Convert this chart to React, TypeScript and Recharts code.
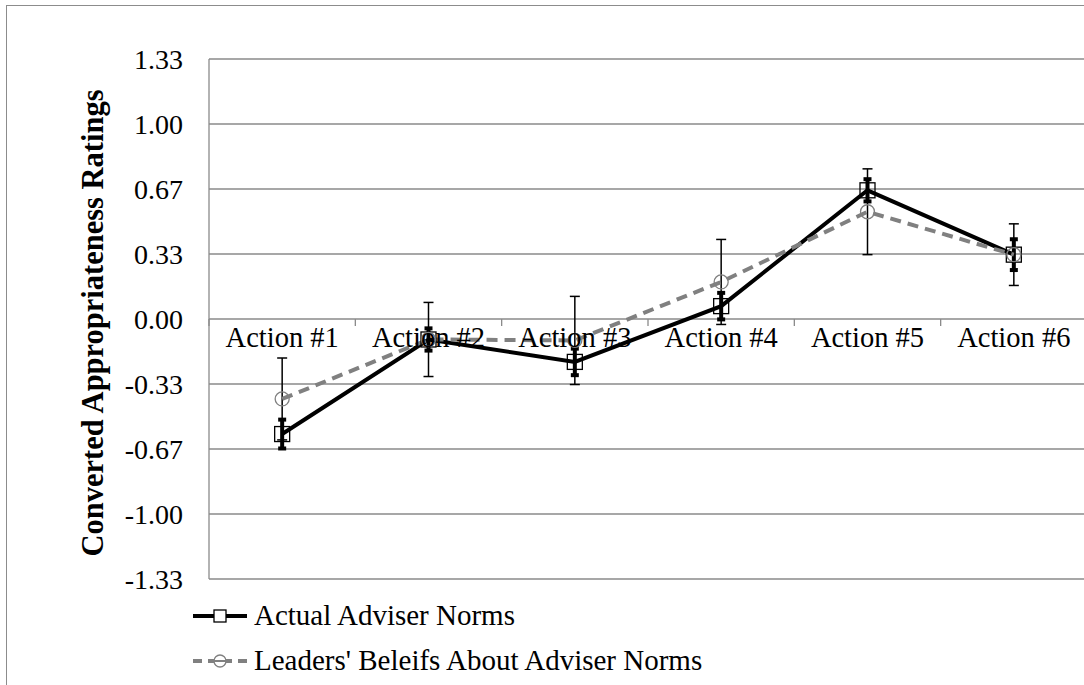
import React from 'react';
import { ComposedChart, Line, XAxis, YAxis, CartesianGrid, ErrorBar, Legend } from 'recharts';

const categories = ['Action #1', 'Action #2', 'Action #3', 'Action #4', 'Action #5', 'Action #6'];
const actualNorms = [-0.59, -0.105, -0.22, 0.066, 0.66, 0.33];
const actualErr = [0.074, 0.057, 0.068, 0.068, 0.057, 0.079];
const leaderBeliefs = [-0.41, -0.105, -0.11, 0.19, 0.55, 0.33];
const leaderErr = [0.21, 0.19, 0.226, 0.218, 0.22, 0.158];
const yTicks = [-4 / 3, -1, -2 / 3, -1 / 3, 0, 1 / 3, 2 / 3, 1, 4 / 3];
const seriesActual = 'Actual Adviser Norms';
const seriesLeaders = "Leaders' Beleifs About Adviser Norms";
const yTitle = 'Converted Appropriateness Ratings';

const data = categories.map((c, i) => ({
  name: c,
  actual: actualNorms[i],
  actualErr: actualErr[i],
  leaders: leaderBeliefs[i],
  leadersErr: leaderErr[i],
}));

const FONT = '"Liberation Serif", "Times New Roman", serif';
const CHART_W = 1090;
const CHART_H = 685;
const M_TOP = 59;
const X_H = 30;
const M_BOTTOM = 106 - X_H;
const M_RIGHT = 3;
const Y_W = 209;
const PLOT_H = CHART_H - M_TOP - M_BOTTOM - X_H;
const PLOT_W = CHART_W - Y_W - M_RIGHT;
const BAND = PLOT_W / categories.length;
const GRID = '#8a8a8a';

const CategoryTick = (props: any) => {
  const { x, y, payload } = props;
  const zeroY = y - PLOT_H / 2;
  return (
    <g>
      <line x1={x - BAND / 2} x2={x - BAND / 2} y1={zeroY} y2={zeroY + 7} stroke={GRID} strokeWidth={1.3} />
      <text x={x} y={zeroY + 28} textAnchor="middle" fontFamily={FONT} fontSize={28.5} fill="#000">
        {payload.value}
      </text>
    </g>
  );
};

const SquareDot = (props: any) => {
  const { cx, cy } = props;
  if (cx == null || cy == null) return null;
  return <rect x={cx - 7.5} y={cy - 7.5} width={15} height={15} fill="none" stroke="#000" strokeWidth={1.3} />;
};

const CircleDot = (props: any) => {
  const { cx, cy } = props;
  if (cx == null || cy == null) return null;
  return <circle cx={cx} cy={cy} r={7} fill="none" stroke="#808080" strokeWidth={1.3} />;
};

const YTitle = (props: any) => {
  const { viewBox } = props;
  const cx = viewBox.x + 93;
  const cy = viewBox.y + viewBox.height / 2 + 4;
  return (
    <text
      x={cx}
      y={cy}
      transform={`rotate(-90 ${cx} ${cy})`}
      textAnchor="middle"
      dominantBaseline="central"
      fontFamily={FONT}
      fontSize={30.5}
      fontWeight="bold"
      fill="#000"
    >
      {yTitle}
    </text>
  );
};

const LegendContent = (props: any) => {
  const payload = props.payload || [];
  return (
    <div style={{ fontFamily: FONT, fontSize: 29, color: '#000' }}>
      {payload.map((entry: any, i: number) => {
        const isActual = entry.dataKey === 'actual';
        return (
          <div key={i} style={{ display: 'flex', alignItems: 'center', height: 45, whiteSpace: 'nowrap' }}>
            <svg width={56} height={20} style={{ display: 'block' }}>
              {isActual ? (
                <>
                  <line x1={1} x2={55} y1={10} y2={10} stroke="#000" strokeWidth={4} />
                  <rect x={22} y={4} width={12} height={12} fill="#fff" stroke="#000" strokeWidth={1.3} />
                </>
              ) : (
                <>
                  <line x1={1} x2={55} y1={10} y2={10} stroke="#808080" strokeWidth={4} strokeDasharray="9 6" />
                  <circle cx={28} cy={10} r={6} fill="#fff" stroke="#808080" strokeWidth={1.3} />
                  <line x1={22} x2={34} y1={10} y2={10} stroke="#808080" strokeWidth={2} />
                </>
              )}
            </svg>
            <span style={{ marginLeft: 6 }}>{entry.value}</span>
          </div>
        );
      })}
    </div>
  );
};

export default function App() {
  return (
    <div style={{ position: 'absolute', left: 0, top: 0, width: 1084, height: 685, overflow: 'hidden', background: '#fff' }}>
      <div
        style={{
          position: 'absolute',
          left: 6,
          top: 5,
          width: 1200,
          height: 900,
          border: '1.5px solid #8c8c8c',
        }}
      />
      <div style={{ position: 'absolute', left: 0, top: 0 }}>
        <ComposedChart
          width={CHART_W}
          height={CHART_H}
          data={data}
          margin={{ top: M_TOP, right: M_RIGHT, bottom: M_BOTTOM, left: 0 }}
        >
          <CartesianGrid vertical={false} stroke={GRID} strokeWidth={1.3} />
          <XAxis
            dataKey="name"
            scale="band"
            axisLine={false}
            tickLine={false}
            tickSize={0}
            tickMargin={0}
            height={X_H}
            interval={0}
            tick={<CategoryTick />}
          />
          <YAxis
            width={Y_W}
            domain={[-4 / 3, 4 / 3]}
            ticks={yTicks}
            interval={0}
            allowDataOverflow
            tickFormatter={(v: number) => v.toFixed(2)}
            axisLine={{ stroke: GRID, strokeWidth: 1.3 }}
            tickLine={false}
            tickSize={0}
            tickMargin={26}
            tick={{ fontFamily: FONT, fontSize: 28, fill: '#000' }}
            label={<YTitle />}
          />
          <Legend
            layout="horizontal"
            verticalAlign="middle"
            align="center"
            content={<LegendContent />}
            wrapperStyle={{ position: 'absolute', left: 192, top: 593, width: 780, height: 92 }}
          />
          <Line
            name={seriesActual}
            dataKey="actual"
            stroke="#000"
            strokeWidth={4}
            dot={<SquareDot />}
            activeDot={false}
            isAnimationActive={false}
          >
            <ErrorBar dataKey="actualErr" direction="y" width={4} stroke="#000" strokeWidth={4} isAnimationActive={false} />
          </Line>
          <Line
            name={seriesLeaders}
            dataKey="leaders"
            stroke="#808080"
            strokeWidth={4}
            strokeDasharray="11 7"
            dot={<CircleDot />}
            activeDot={false}
            isAnimationActive={false}
          >
            <ErrorBar dataKey="leadersErr" direction="y" width={5} stroke="#000" strokeWidth={1.5} isAnimationActive={false} />
          </Line>
        </ComposedChart>
      </div>
    </div>
  );
}
